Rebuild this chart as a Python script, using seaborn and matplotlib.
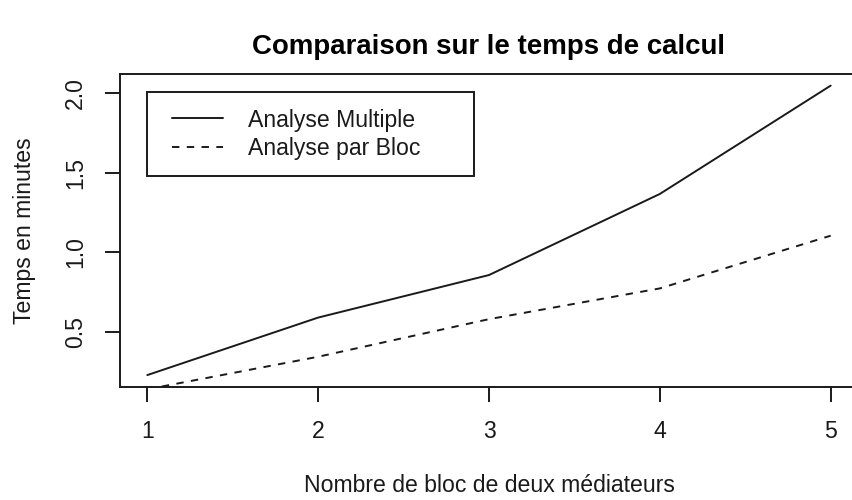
import matplotlib
matplotlib.use("Agg")
import matplotlib.pyplot as plt
import seaborn as sns
import numpy as np
import pandas as pd
from matplotlib.patches import Rectangle

# Data
blocs = [1, 2, 3, 4, 5]
analyse_multiple = [0.229, 0.59, 0.857, 1.366, 2.046]
analyse_bloc = [0.14, 0.344, 0.58, 0.773, 1.104]
x_ticks = [1, 2, 3, 4, 5]
y_ticks = [0.5, 1.0, 1.5, 2.0]
y_tick_labels = ["0.5", "1.0", "1.5", "2.0"]

sns.set_style("ticks")
plt.rcParams['font.family'] = ['Liberation Sans', 'DejaVu Sans']

W, H = 853, 500
fig = plt.figure(figsize=(W / 100, H / 100), dpi=100)
# axes box in pixels: left 120, right 858 (beyond the image), top 74, bottom 386.7
L, R, T, B = 120, 858, 74, 386.7
ax = fig.add_axes([L / W, 1 - B / H, (R - L) / W, (B - T) / H])

lw = 1.4
fs = 16.6
sns.lineplot(x=blocs, y=analyse_multiple, ax=ax, color="#1a1a1a", linewidth=lw,
             label="Analyse Multiple")
sns.lineplot(x=blocs, y=analyse_bloc, ax=ax, color="#1a1a1a", linewidth=lw,
             label="Analyse par Bloc")
ax.lines[1].set_dashes((3.8, 3.8))

ax.set_xlim(0.84, 5.16)
ax.set_ylim(0.156, 2.119)
ax.set_xticks(x_ticks)
ax.set_xticklabels([str(v) for v in x_ticks], fontsize=fs)
ax.set_yticks(y_ticks)
ax.set_yticklabels(y_tick_labels, fontsize=fs, rotation=90, va="center")
ax.tick_params(axis="both", direction="out", length=10.8, width=lw, pad=13,
               color="#1a1a1a", labelcolor="#1a1a1a")
for s in ax.spines.values():
    s.set_visible(True)
    s.set_linewidth(lw)
    s.set_color("#1a1a1a")
ax.spines["right"].set_visible(False)

ax.set_xlabel("Nombre de bloc de deux médiateurs", fontsize=fs, color="#1a1a1a")
ax.xaxis.set_label_coords((489 - L) / (R - L), (B - 485) / (B - T))
ax.xaxis.label.set_va("center")
ax.set_ylabel("Temps en minutes", fontsize=fs, color="#1a1a1a")
ax.yaxis.set_label_coords((25 - L) / (R - L), 0.5)
ax.yaxis.label.set_va("center")

fig.text(489 / W, 1 - 47 / H, "Comparaison sur le temps de calcul",
         fontsize=19.9, fontweight="bold", ha="center", va="center", color="black")

# legend box
bx0, bx1, by0, by1 = 147.3, 474, 92.3, 176
ax.add_patch(Rectangle(((bx0 - L) / (R - L), (B - by1) / (B - T)),
                       (bx1 - bx0) / (R - L), (by1 - by0) / (B - T),
                       transform=ax.transAxes, facecolor="white", edgecolor="#1a1a1a",
                       linewidth=lw, zorder=4))
leg = ax.legend(loc="upper left", frameon=False, fontsize=fs,
                bbox_to_anchor=((171.7 - L) / (R - L), (B - 108.5) / (B - T)),
                borderpad=0, borderaxespad=0, handlelength=2.24, handletextpad=1.09,
                labelspacing=0.25)
leg.set_zorder(5)
for t in leg.get_texts():
    t.set_color("#1a1a1a")

fig.savefig("out.png", dpi=100)
